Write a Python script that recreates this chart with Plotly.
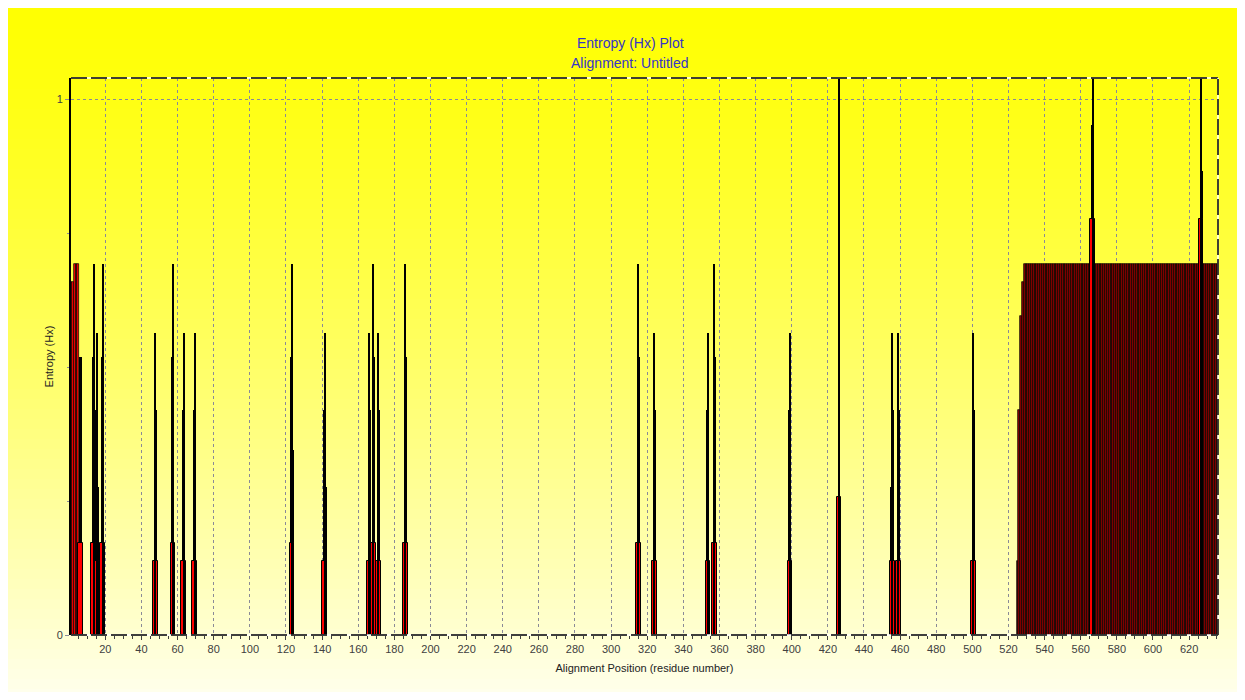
import plotly.graph_objects as go

# ---- data ----
# isolated entropy columns: centre position, thin top level, thick black level,
# red base level, optional narrow step level (0 = none) and the side of that step
col_pos = [13.6, 15.2, 18.5, 47.6, 57.4, 63.3, 69.4, 123.3, 141.5, 166.1, 168.4, 171.2,
           186.0, 315.0, 324.0, 353.6, 357.1, 399.0, 426.2, 455.7, 459.0, 500.6, 566.6, 626.6]
col_top = [0.693, 0.563, 0.693, 0.563, 0.693, 0.563, 0.563, 0.693, 0.563, 0.563, 0.693, 0.563,
           0.693, 0.693, 0.563, 0.563, 0.693, 0.563, 1.04, 0.563, 0.563, 0.563, 1.04, 1.04]
col_mid = [0.519, 0.42, 0.519, 0.42, 0.519, 0.42, 0.42, 0.519, 0.42, 0.42, 0.519, 0.42,
           0.519, 0.519, 0.42, 0.42, 0.519, 0.42, 0.78, 0.42, 0.42, 0.42, 0.953, 0.953]
col_low = [0.172, 0.138, 0.172, 0.138, 0.172, 0.138, 0.138, 0.172, 0.138, 0.138, 0.172, 0.138,
           0.172, 0.172, 0.138, 0.138, 0.172, 0.138, 0.258, 0.138, 0.138, 0.138, 0.777, 0.777]
col_step = [0, 0.277, 0, 0, 0, 0, 0, 0.345, 0.277, 0, 0, 0,
            0.345, 0, 0.277, 0, 0, 0.277, 0, 0.277, 0, 0.277, 0, 0.866]
col_step_side = [0, 1, 0, 0, 0, 0, 0, 1, 1, 0, 0, 0,
                 1, 0, 1, 0, 0, -1, 0, -1, 0, 1, 0, 1]

# contiguous runs of positions (one value per alignment position)
run_start = [1, 525]
run_values = [
    [0.66, 0.66, 0.693, 0.693, 0.693],
    [0.138, 0.42, 0.595, 0.66,
     0.693, 0.693, 0.693, 0.693, 0.693, 0.693, 0.693, 0.693, 0.693, 0.693, 0.693, 0.693,
     0.693, 0.693, 0.693, 0.693, 0.693, 0.693, 0.693, 0.693, 0.693, 0.693, 0.693, 0.693,
     0.693, 0.693, 0.693, 0.693, 0.693, 0.693, 0.693, 0.693, 0.693, 0.693, 0.693, 0.693,
     0.693, 0.693, 0.693,
     0.693, 0.693, 0.693, 0.693, 0.693, 0.693, 0.693, 0.693, 0.693, 0.693, 0.693, 0.693,
     0.693, 0.693, 0.693, 0.693, 0.693, 0.693, 0.693, 0.693, 0.693, 0.693, 0.693, 0.693,
     0.693, 0.693, 0.693, 0.693, 0.693, 0.693, 0.693, 0.693, 0.693, 0.693, 0.693, 0.693,
     0.693, 0.693, 0.693, 0.693, 0.693, 0.693, 0.693, 0.693, 0.693, 0.693, 0.693, 0.693,
     0.693, 0.693, 0.693, 0.693, 0.693, 0.693, 0.693, 0.693, 0.693, 0.693, 0.693, 0.693,
     0.693, 0.693, 0.693, 0.693, 0.693, 0.693, 0.693, 0.693, 0.693, 0.693, 0.693],
]
col_after_first = [6.3]          # small column right after the first run
col_after_first_mid = [0.519]
col_after_first_low = [0.172]

x_tick_values = list(range(20, 621, 20))
y_tick_values = [0, 1]
title_lines = ["Entropy (Hx) Plot", "Alignment: Untitled"]
x_title = "Alignment Position (residue number)"
y_title = "Entropy (Hx)"

run_pos, run_val, run_col = [], [], []
for r, (s, vals) in enumerate(zip(run_start, run_values)):
    for i, v in enumerate(vals):
        run_pos.append(s + i)
        run_val.append(v)
        run_col.append("#ff0000" if r == 0 else "#8a0000")

# ---- geometry (page offset of 8 px from the body margin) ----
OFF = 8
W, H = 1245 - 2 * OFF, 700 - 2 * OFF
ML, MT = 71 - OFF, 78 - OFF
MR = W - (1218 - OFF)
MB = H - (635 - OFF)
PW, PH = W - ML - MR, H - MT - MB

def pagex(px):
    return (px - OFF - ML) / PW

def pagey(py):
    return (H - MB - (py - OFF)) / PH

FONT = "Liberation Sans, Arial, sans-serif"
fig = go.Figure()

# thick black part of each column
fig.add_trace(go.Bar(x=col_pos + col_after_first, y=col_mid + col_after_first_mid, width=1.6,
                     marker=dict(color="#000000", line=dict(width=0)),
                     showlegend=False, hoverinfo="x+y"))
# narrow step beside some columns
step_x = [p + 0.55 * s for p, s in zip(col_pos, col_step_side) if s != 0]
step_y = [v for v, s in zip(col_step, col_step_side) if s != 0]
fig.add_trace(go.Bar(x=step_x, y=step_y, width=1.0,
                     marker=dict(color="#000000", line=dict(width=0)),
                     showlegend=False, hoverinfo="x+y"))
# per-position runs
fig.add_trace(go.Bar(x=run_pos, y=run_val, width=1,
                     marker=dict(color=run_col, line=dict(color="#000000", width=0.7)),
                     showlegend=False, hoverinfo="x+y"))
# red base of each column
fig.add_trace(go.Bar(x=col_pos + col_after_first, y=col_low + col_after_first_low, width=2.6,
                     marker=dict(color="#ff0000", line=dict(color="#000000", width=1)),
                     showlegend=False, hoverinfo="x+y"))
# thin top line of each column
fig.add_trace(go.Bar(x=col_pos, y=col_top, width=0.55,
                     marker=dict(color="#000000", line=dict(width=0)),
                     showlegend=False, hoverinfo="x+y"))

shapes = []
n = 70
for k in range(n):
    t0, t1 = k / n, (k + 1) / n
    tm = (t0 + t1) / 2
    b = int(round(238 * tm ** 1.3))
    shapes.append(dict(type="rect", xref="paper", yref="paper", layer="below",
                       x0=pagex(-5), x1=pagex(1250),
                       y0=pagey(t0 * 700 - 1), y1=pagey(t1 * 700 + 1),
                       line=dict(width=0), fillcolor=f"rgb(255,255,{b})"))
for x0, y0, x1, y1 in [(0, 1, 1, 1), (1, 0, 1, 1), (0, 0, 1, 0)]:
    shapes.append(dict(type="line", xref="paper", yref="paper", layer="above",
                       x0=x0, y0=y0, x1=x1, y1=y1, line=dict(color="#ffffff", width=1.5)))
    shapes.append(dict(type="line", xref="paper", yref="paper", layer="above",
                       x0=x0, y0=y0, x1=x1, y1=y1,
                       line=dict(color="#000000", width=1.5, dash="16px,4px")))

fig.update_layout(
    width=W, height=H,
    margin=dict(l=ML, r=MR, t=MT, b=MB, autoexpand=False),
    paper_bgcolor="#ffffff", plot_bgcolor="rgba(0,0,0,0)",
    font=dict(family=FONT, size=11, color="#333333"),
    barmode="overlay", bargap=0,
    shapes=shapes,
    annotations=[
        dict(text=title_lines[0], xref="paper", yref="paper", x=pagex(630), y=pagey(43),
             xanchor="center", yanchor="middle", showarrow=False,
             font=dict(family=FONT, size=14, color="#3535c8")),
        dict(text=title_lines[1], xref="paper", yref="paper", x=pagex(630), y=pagey(63),
             xanchor="center", yanchor="middle", showarrow=False,
             font=dict(family=FONT, size=14, color="#3535c8")),
    ],
    xaxis=dict(
        range=[1, 636], tickvals=x_tick_values, ticktext=[str(v) for v in x_tick_values],
        showgrid=True, gridcolor="#8a8a98", griddash="3px,3px", gridwidth=1,
        ticks="outside", ticklen=4, tickcolor="#404040",
        minor=dict(dtick=5, tick0=0, ticks="outside", ticklen=3, tickcolor="#404040", showgrid=False),
        showline=False, zeroline=False,
        tickfont=dict(family=FONT, size=11, color="#404040"),
        title=dict(text=x_title, standoff=10, font=dict(family=FONT, size=11, color="#222222")),
    ),
    yaxis=dict(
        range=[0, 1.04], tickvals=y_tick_values, ticktext=["0", "1"],
        showgrid=True, gridcolor="#8a8a98", griddash="3px,3px", gridwidth=1,
        ticks="outside", ticklen=4, tickcolor="#8a8a98",
        minor=dict(dtick=0.25, ticks="outside", ticklen=2, tickcolor="#8a8a98", showgrid=False),
        showline=True, linecolor="#000000", linewidth=2,
        zeroline=False,
        tickfont=dict(family=FONT, size=11, color="#404040"),
        title=dict(text=y_title, standoff=1, font=dict(family=FONT, size=11, color="#222222")),
    ),
)

fig.write_html("out.html")
